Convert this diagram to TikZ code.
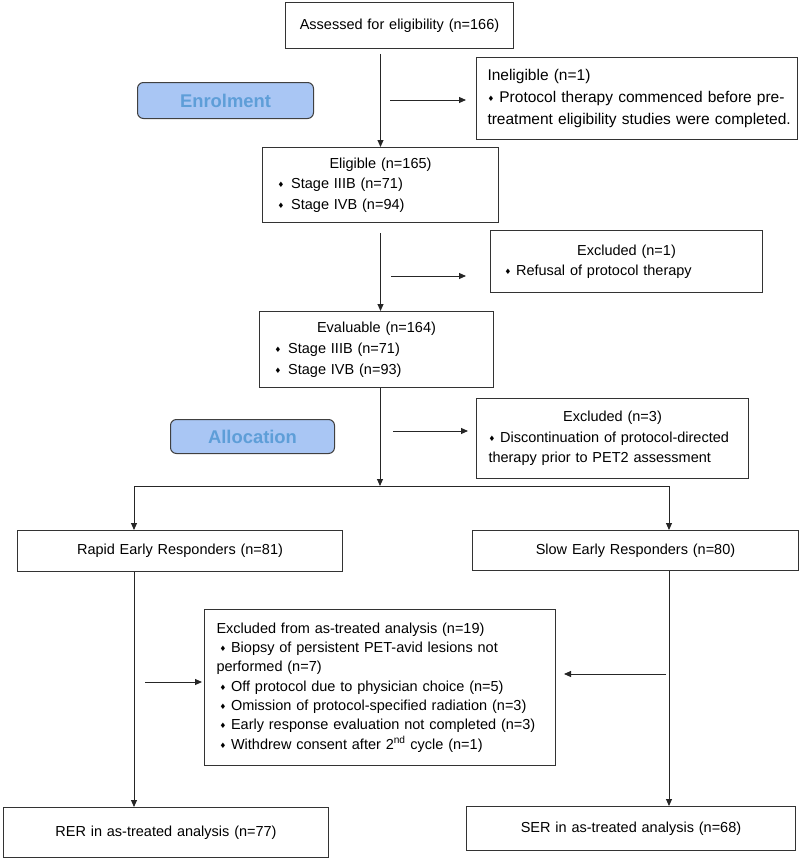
\documentclass[tikz,border=0pt]{standalone}
\usepackage{fontspec}
\setmainfont{Liberation Sans}
\newfontfamily\dejavu{DejaVu Sans}
\usepackage{tikz}
\usetikzlibrary{arrows.meta, positioning}
\definecolor{phasefill}{HTML}{A9C6F4}
\definecolor{phasetext}{HTML}{5E9ED8}
\tikzstyle{flowbox}=[rectangle, draw=black!80, line width=1pt, anchor=north west, inner xsep=12pt, inner ysep=0pt, align=left, font=\fontsize{14.5}{19.3}\selectfont]
\tikzstyle{phase}=[rectangle, rounded corners=6pt, draw=black!75, line width=1pt, fill=phasefill, text=phasetext, anchor=north west, font=\bfseries\fontsize{18.4}{20}\selectfont]
\tikzstyle{link}=[draw=black!85, line width=0.9pt]
\tikzstyle{arr}=[link, -{Triangle[length=7pt,width=6pt]}]
\newcommand{\dia}{\raisebox{1pt}{\dejavu\fontsize{7.5}{8}\selectfont ♦}}

\begin{document}
\begin{tikzpicture}[x=1pt, y=-1pt]
  \useasboundingbox (0,0) rectangle (800,859);
  % enrolment
  \node[flowbox, minimum width=228pt, minimum height=46pt, text width=204pt, align=center] (assess) at (285,2) {Assessed for eligibility (n=166)};
  \node[phase, minimum width=176pt, minimum height=36pt] (enr) at (137,82) {Enrolment};
  \node[flowbox, minimum width=321pt, minimum height=82pt, inner xsep=11pt, text width=299pt, font=\fontsize{15.5}{22}\selectfont] (inel) at (476,57)
       {Ineligible (n=1)\\\mbox{\dia\ Protocol therapy commenced before pre-}\\\mbox{treatment eligibility studies were completed.}};
  \node[flowbox, minimum width=236pt, minimum height=75pt, text width=212pt, font=\fontsize{14.5}{20.5}\selectfont] (elig) at (262,147)
       {\makebox[\linewidth]{Eligible (n=165)}\\\hspace*{3pt}\dia\hspace{7pt}Stage IIIB (n=71)\\\hspace*{3pt}\dia\hspace{7pt}Stage IVB (n=94)};
  \node[flowbox, minimum width=272pt, minimum height=62pt, text width=248pt, font=\fontsize{14.5}{20.5}\selectfont] (excla) at (490,230)
       {\makebox[\linewidth]{Excluded (n=1)}\\\hspace*{2pt}\dia\ Refusal of protocol therapy};
  \node[flowbox, minimum width=234pt, minimum height=76pt, text width=210pt, font=\fontsize{14.5}{21}\selectfont] (eval) at (259,311)
       {\makebox[\linewidth]{Evaluable (n=164)}\\\hspace*{3pt}\dia\hspace{7pt}Stage IIIB (n=71)\\\hspace*{3pt}\dia\hspace{7pt}Stage IVB (n=93)};
  % allocation
  \node[phase, minimum width=164pt, minimum height=34pt] (alloc) at (170,419) {Allocation};
  \node[flowbox, minimum width=272pt, minimum height=80pt, text width=248pt, font=\fontsize{14.5}{20.3}\selectfont] (exclb) at (476,398)
       {\makebox[\linewidth]{Excluded (n=3)}\\\dia\ Discontinuation of protocol-directed\\therapy prior to PET2 assessment};
  \node[flowbox, minimum width=325pt, minimum height=41pt, text width=301pt, align=center] (rapid) at (17,530) {Rapid Early Responders (n=81)};
  \node[flowbox, minimum width=326pt, minimum height=40pt, text width=302pt, align=center] (slow) at (472,530) {Slow Early Responders (n=80)};
  \node[flowbox, minimum width=351pt, minimum height=156pt, text width=327pt] (exclc) at (204,609)
       {Excluded from as-treated analysis (n=19)\\
        \hspace*{3pt}\dia\ Biopsy of persistent PET-avid lesions not\\
        performed (n=7)\\
        \hspace*{3pt}\dia\ Off protocol due to physician choice (n=5)\\
        \hspace*{3pt}\dia\ Omission of protocol-specified radiation (n=3)\\
        \hspace*{3pt}\dia\ Early response evaluation not completed (n=3)\\
        \hspace*{3pt}\dia\ Withdrew consent after 2\textsuperscript{nd} cycle (n=1)};
  \node[flowbox, minimum width=325pt, minimum height=50pt, text width=301pt, align=center] (rer) at (3,807) {RER in as-treated analysis (n=77)};
  \node[flowbox, minimum width=329pt, minimum height=44pt, text width=305pt, align=center] (ser) at (466,806) {SER in as-treated analysis (n=68)};

  \coordinate (split) at (380,486);
  \coordinate (splitL) at (134,486);
  \coordinate (splitR) at (669,486);
  \coordinate (s1) at (390,100);
  \coordinate (s2) at (391,276);
  \coordinate (s3) at (393,431);
  \coordinate (s4) at (145,682);
  \coordinate (s5) at (666,674);

  % main column
  \draw[arr, shorten <=5pt] (assess.south -| elig.north) -- (elig.north);
  \draw[arr, shorten <=10pt] (elig.south) -- (elig.south |- eval.north);
  \draw[arr] (eval.south -| split) -- (split);
  \draw[link] (splitL) -- (splitR);
  \draw[arr] (splitL) -- (splitL |- rapid.north);
  \draw[arr] (splitR) -- (splitR |- slow.north);
  \draw[arr] (rapid.south -| splitL) -- (rer.north -| splitL);
  \draw[arr] (slow.south -| splitR) -- (ser.north -| splitR);
  % side arrows
  \draw[arr, shorten >=10pt] (s1) -- (s1 -| inel.west);
  \draw[arr, shorten >=24pt] (s2) -- (s2 -| excla.west);
  \draw[arr, shorten >=8pt] (s3) -- (s3 -| exclb.west);
  \draw[arr, shorten >=2pt] (s4) -- (s4 -| exclc.west);
  \draw[arr, shorten >=8pt] (s5) -- (s5 -| exclc.east);
\end{tikzpicture}
\end{document}
